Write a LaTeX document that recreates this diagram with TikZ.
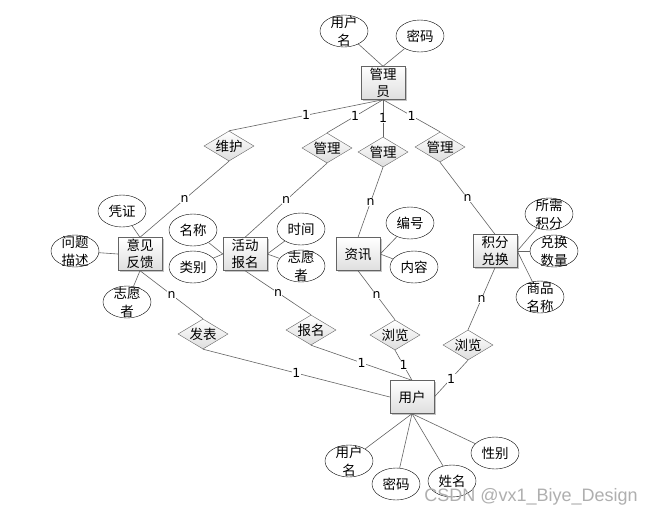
\documentclass[tikz,border=0pt]{standalone}
\usepackage{fontspec}
\usepackage{tikz}
\usepackage{xcolor}
\usetikzlibrary{positioning, shapes.geometric, shadows}
\setmainfont{DejaVu Sans}
\newfontfamily\cjk{Noto Sans CJK SC}
\newfontfamily\markfont{Liberation Sans}
\definecolor{erline}{RGB}{100, 100, 100}
\definecolor{ergray}{RGB}{222, 222, 222}
\definecolor{ermark}{RGB}{175, 175, 175}
\tikzset{
    entity/.style={rectangle, draw=erline, top color=white, bottom color=ergray,
        drop shadow={shadow xshift=1.5pt, shadow yshift=-1.5pt, opacity=0.45},
        minimum width=44pt, minimum height=33pt, inner sep=0pt, align=center,
        font=\cjk\fontsize{13.5}{17}\selectfont},
    attr/.style={ellipse, draw=black, fill=white, minimum width=48pt, minimum height=32pt,
        inner sep=-8pt, align=center, font=\cjk\fontsize{13.5}{18}\selectfont},
    rel/.style={diamond, draw=erline, top color=white, bottom color=ergray,
        minimum width=50pt, minimum height=30pt, inner sep=-6pt,
        font=\cjk\fontsize{13.5}{16}\selectfont},
    link/.style={draw=erline, line width=0.6pt},
    card/.style={fill=white, inner sep=0.5pt, font=\fontsize{12.5}{13}\selectfont}
}

\begin{document}
\begin{tikzpicture}[x=1pt, y=-1pt]
    \fill[white] (0,0) rectangle (655,517);
    \useasboundingbox (0,0) rectangle (655,517);
    % entities
    \node[entity] (admin) at (383,83) {管理\\员};
    \node[entity] (feedback) at (140,254) {意见\\反馈};
    \node[entity] (signup) at (245,254) {活动\\报名};
    \node[entity] (news) at (358,254) {资讯};
    \node[entity] (points) at (495,251) {积分\\兑换};
    \node[entity] (user) at (412,397) {用户};
    % attributes
    \node[attr] (aname) at (344,31) {用户\\名};
    \node[attr] (apwd) at (420,36) {密码};
    \node[attr] (fproof) at (122,211) {凭证};
    \node[attr] (fdesc) at (75,251) {问题\\描述};
    \node[attr] (fvol) at (127,302) {志愿\\者};
    \node[attr] (sname) at (193,230) {名称};
    \node[attr] (stype) at (193,267) {类别};
    \node[attr] (stime) at (301,229) {时间};
    \node[attr] (svol) at (301,266) {志愿\\者};
    \node[attr] (nid) at (410,223) {编号};
    \node[attr] (ntext) at (414,267) {内容};
    \node[attr] (pneed) at (549,214) {所需\\积分};
    \node[attr] (pnum) at (554,251) {兑换\\数量};
    \node[attr] (pgoods) at (540,297) {商品\\名称};
    \node[attr] (uname) at (349,461) {用户\\名};
    \node[attr] (upwd) at (396,484) {密码};
    \node[attr] (ureal) at (452,481) {姓名};
    \node[attr] (usex) at (495,453) {性别};
    % relationships
    \node[rel] (weihu) at (229,146) {维护};
    \node[rel] (mgr1) at (327,148) {管理};
    \node[rel] (mgr2) at (383,152) {管理};
    \node[rel] (mgr3) at (440,147) {管理};
    \node[rel] (post) at (203,334) {发表};
    \node[rel] (join) at (311,330) {报名};
    \node[rel] (view1) at (395,335) {浏览};
    \node[rel] (view2) at (468,345) {浏览};
    % attribute lines
    \draw[link] (admin.north) -- (aname);
    \draw[link] (admin.north) -- (apwd);
    \draw[link] (feedback.north) -- (fproof);
    \draw[link] (feedback.west) -- (fdesc);
    \draw[link] (feedback.south) -- (fvol);
    \draw[link] (signup.west) -- (sname);
    \draw[link] (signup.west) -- (stype);
    \draw[link] (signup.east) -- (stime);
    \draw[link] (signup.east) -- (svol);
    \draw[link] (news.east) -- (nid);
    \draw[link] (news.east) -- (ntext);
    \draw[link] (points.east) -- (pneed);
    \draw[link] (points.east) -- (pnum);
    \draw[link] (points.east) -- (pgoods);
    \draw[link] (user.south) -- (uname);
    \draw[link] (user.south) -- (upwd);
    \draw[link] (user.south) -- (ureal);
    \draw[link] (user.south) -- (usex);
    % relationship lines
    \draw[link] (weihu.north) -- node[card] {1} (admin.south);
    \draw[link] (mgr1.north) -- node[card] {1} (admin.south);
    \draw[link] (mgr2.north) -- node[card] {1} (admin.south);
    \draw[link] (mgr3.north) -- node[card] {1} (admin.south);
    \draw[link] (weihu.south) -- node[card] {n} (feedback.north);
    \draw[link] (mgr1.south) -- node[card] {n} (signup.north);
    \draw[link] (mgr2.south) -- node[card] {n} (news.north);
    \draw[link] (mgr3.south) -- node[card] {n} (points.north);
    \draw[link] (feedback.south) -- node[card] {n} (post.north);
    \draw[link] (post.south) -- node[card] {1} (user.west);
    \draw[link] (signup.south) -- node[card] {n} (join.north);
    \draw[link] (join.south) -- node[card] {1} (user.north);
    \draw[link] (news.south) -- node[card] {n} (view1.north);
    \draw[link] (view1.south) -- node[card] {1} (user.north);
    \draw[link] (points.south) -- node[card] {n} (view2.north);
    \draw[link] (view2.south) -- node[card] {1} (user.east);
    % watermark
    \node[font=\markfont\fontsize{18}{18}\selectfont, text=ermark] (mark) at (531,497) {CSDN @vx1\_Biye\_Design};
\end{tikzpicture}
\end{document}
